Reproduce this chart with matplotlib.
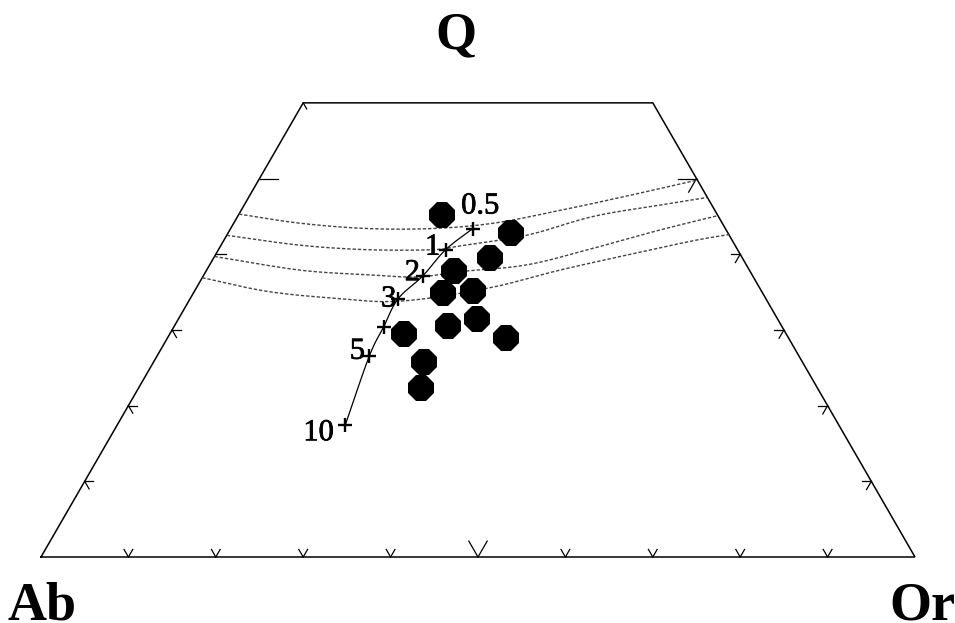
import numpy as np
import matplotlib
matplotlib.use("Agg")
import matplotlib.pyplot as plt
import matplotlib.patheffects as pe

# ---- data (percent Q / percent Or; Ab = 100 - Q - Or) ----
# sample compositions
sample_q = [45.2, 42.8, 39.5, 37.8, 34.9, 35.1, 31.5, 30.5, 29.5, 28.9, 25.7, 22.3]
sample_or = [23.3, 32.4, 31.6, 28.4, 28.5, 31.9, 34.1, 31.3, 26.8, 38.8, 31.0, 32.3]

# minimum-melt compositions with water pressure (kbar)
pressure_labels = ["0.5", "1", "2", "3", "", "5", "10"]
minimum_q = [43.4, 40.6, 37.1, 34.1, 30.4, 26.5, 17.4]
minimum_or = [27.7, 26.0, 25.1, 23.8, 24.0, 24.3, 26.1]

# dashed cotectic curves
cot1_q = [45.3, 44.1, 43.4, 43.4, 44.1, 45.8, 47.7, 49.8]
cot1_or = [0.0, 7.6, 15.6, 23.1, 29.7, 36.5, 43.2, 50.2]
cot2_q = [42.5, 41.2, 40.6, 40.6, 41.1, 42.5, 45.0, 46.5, 47.5]
cot2_or = [0.0, 9.0, 17.0, 24.6, 27.4, 34.3, 40.7, 47.6, 52.5]
cot3_q = [39.7, 37.9, 37.3, 37.0, 37.7, 38.6, 40.8, 43.2, 45.1]
cot3_or = [0.0, 10.7, 18.6, 24.5, 29.1, 36.3, 42.8, 49.2, 54.9]
cot4_q = [36.9, 35.1, 34.2, 33.8, 35.5, 37.9, 39.9, 41.8, 42.6]
cot4_or = [0.0, 8.3, 16.4, 24.2, 33.3, 40.4, 47.1, 53.8, 57.4]

base_ticks = [10, 20, 30, 40, 50, 60, 70, 80, 90]
side_ticks = [10, 20, 30, 40, 50]
q_top = 60

SQ = np.sqrt(3) / 2


def tern(q, o):
    q = np.asarray(q, float) / 100.0
    o = np.asarray(o, float) / 100.0
    return o + q / 2, q * SQ


def smooth(x, y, n=16):
    """Catmull-Rom curve through the given vertices (for drawing only)."""
    p = np.column_stack([x, y])
    p = np.vstack([2 * p[0] - p[1], p, 2 * p[-1] - p[-2]])
    out = []
    t = np.linspace(0, 1, n, endpoint=False)[:, None]
    for i in range(1, len(p) - 2):
        p0, p1, p2, p3 = p[i - 1], p[i], p[i + 1], p[i + 2]
        seg = 0.5 * ((2 * p1) + (-p0 + p2) * t + (2 * p0 - 5 * p1 + 4 * p2 - p3) * t ** 2
                     + (-p0 + 3 * p1 - 3 * p2 + p3) * t ** 3)
        out.append(seg)
    out.append(p[-2][None, :])
    out = np.vstack(out)
    return out[:, 0], out[:, 1]


fig = plt.figure(figsize=(9.55, 6.23), dpi=100)
ax = fig.add_axes([0, 0, 1, 1])
ax.set_xlim(-41 / 874, 914 / 874)
ax.set_ylim(-66 / 874, 557 / 874)
ax.axis("off")

# truncated triangle frame
fx, fy = tern([0, 0, q_top, q_top, 0], [0, 100, 100 - q_top, 0, 0])
ax.plot(fx, fy, color="black", lw=1.1, solid_joinstyle="miter", zorder=2)


def arm(x0, y0, ang, length):
    a = np.deg2rad(ang)
    ax.plot([x0, x0 + length * np.cos(a)], [y0, y0 + length * np.sin(a)],
            color="black", lw=0.9, zorder=2)


# bottom ticks (Ab-Or side)
for t in base_ticks:
    x0, y0 = tern(0, t)
    L = 0.021 if t == 50 else 0.010
    arm(x0, y0, 60, L)
    arm(x0, y0, 120, L)

# left side ticks (Ab-Q side)
for t in side_ticks:
    x0, y0 = tern(t, 0)
    if t >= 40:
        arm(x0, y0, 0, 0.021 if t == 50 else 0.012)
    else:
        arm(x0, y0, 0, 0.010)
        arm(x0, y0, -60, 0.010)
x0, y0 = tern(q_top, 0)
arm(x0, y0, -60, 0.008)

# right side ticks (Or-Q side)
for t in side_ticks:
    x0, y0 = tern(t, 100 - t)
    if t == 50:
        arm(x0, y0, 180, 0.021)
        arm(x0, y0, 240, 0.018)
    else:
        arm(x0, y0, 180, 0.011)
        arm(x0, y0, 240, 0.011)

# cotectic curves
for cq, co in [(cot1_q, cot1_or), (cot2_q, cot2_or), (cot3_q, cot3_or), (cot4_q, cot4_or)]:
    cx, cy = smooth(*tern(cq, co))
    ax.plot(cx, cy, color="#444444", lw=1.0, linestyle=(0, (2.4, 1.4)), zorder=3)

# minimum-melt trend with pressure
mx, my = tern(minimum_q, minimum_or)
ax.plot(*smooth(mx, my), color="black", lw=0.9, zorder=4)
ax.plot(mx, my, linestyle="none", marker="+", ms=10.5, mew=1.7, color="black", zorder=5)

label_offsets = {"0.5": (5.3, 10.8), "1": (-9.4, -3.6), "2": (-7.3, -2.9),
                 "3": (-6.7, -5.5), "5": (-8.5, -1.7), "10": (-19.2, -10.8)}
heavier = [pe.withStroke(linewidth=0.5, foreground="black")]
for lab, x, y in zip(pressure_labels, mx, my):
    if not lab:
        continue
    ax.annotate(lab, (x, y), xytext=label_offsets[lab], textcoords="offset points",
                ha="center", va="baseline", fontsize=22, family="Liberation Serif",
                path_effects=heavier, zorder=6)

# samples
sx, sy = tern(sample_q, sample_or)
ax.plot(sx, sy, linestyle="none", marker="8", ms=19.5, color="black",
        markeredgewidth=0, zorder=7)

# apex labels
vx, vy = tern(0, 0)
ax.annotate("Ab", (vx, vy), xytext=(0.7, -45.0), textcoords="offset points",
            ha="center", va="baseline", fontsize=39, fontweight="bold",
            family="Liberation Serif")
vx, vy = tern(0, 100)
ax.annotate("Or", (vx, vy), xytext=(5, -45.0), textcoords="offset points",
            ha="center", va="baseline", fontsize=39, fontweight="bold",
            family="Liberation Serif")
vx, vy = tern(q_top, 100 - q_top - 20)
ax.annotate("Q", (vx, vy), xytext=(-16, 39), textcoords="offset points",
            ha="center", va="baseline", fontsize=38, fontweight="bold",
            family="Liberation Serif")

fig.savefig("out.png", dpi=100, facecolor="white")
